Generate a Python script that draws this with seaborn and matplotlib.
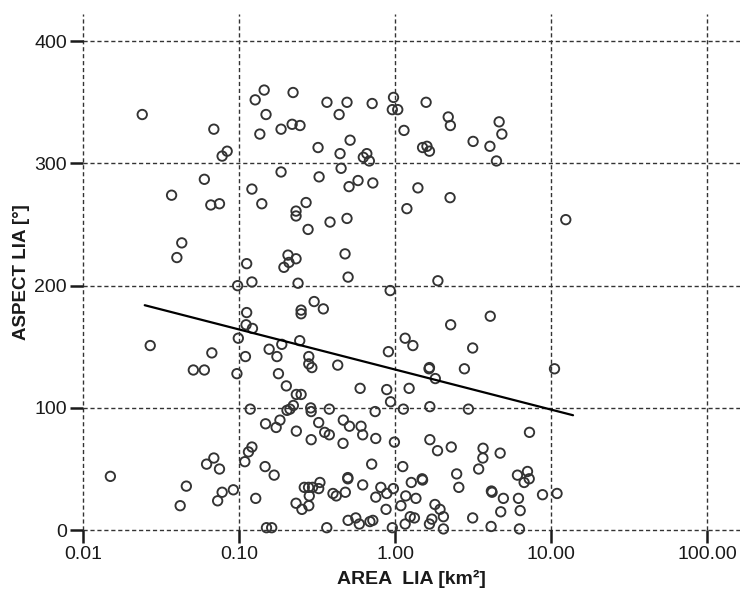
import numpy as np
import pandas as pd
import matplotlib
matplotlib.use("Agg")
import matplotlib.pyplot as plt
import seaborn as sns

# Glacier area during the Little Ice Age (km²) and the aspect (degrees)
area = [
    0.024, 0.069, 0.078, 0.084, 0.060, 0.037, 0.066, 0.075, 0.043, 0.040,
    0.098, 0.121, 0.112, 0.127, 0.145, 0.149, 0.136, 0.186, 0.222, 0.219,
    0.246, 0.186, 0.121, 0.140, 0.232, 0.232, 0.269, 0.277, 0.321, 0.326,
    0.366, 0.438, 0.492, 0.515, 0.444, 0.451, 0.579, 0.507, 0.383, 0.492,
    0.478, 0.50, 0.194, 0.206, 0.209, 0.232, 0.239, 0.713, 0.977, 0.96,
    1.04, 1.58, 1.14, 2.19, 2.26, 1.50, 1.60, 1.66, 3.16, 4.05,
    4.64, 4.83, 4.46, 1.40, 2.25, 1.19, 0.72, 0.659, 0.626, 0.684,
    12.4, 1.88, 0.93,
    0.112, 0.25, 0.25, 0.303, 0.347, 0.111, 0.122, 0.099, 0.027, 0.067,
    0.051, 0.060, 0.097, 0.110, 0.156, 0.188, 0.175, 0.179, 0.245, 0.28,
    0.28, 0.293, 0.429, 0.201, 0.233, 0.25, 0.597, 0.906, 0.884, 4.07,
    2.27, 1.16, 1.30, 3.14, 1.65, 1.66, 1.81, 2.78, 10.5, 1.23,
    0.935, 1.13, 1.67, 2.95, 0.118, 0.203, 0.212, 0.223, 0.288, 0.29,
    0.379, 0.745,
    0.148, 0.173, 0.183, 0.233, 0.324, 0.29, 0.354, 0.379, 0.466, 0.51,
    0.464, 0.605, 0.62, 0.752, 0.99, 0.109, 0.115, 0.121, 0.062, 0.069,
    0.075, 0.015, 0.046, 0.042, 0.073, 0.078, 0.092, 0.128, 0.147, 0.168,
    0.232, 0.253, 0.28, 0.262, 0.279, 0.296, 0.324, 0.33, 0.282, 0.150,
    0.162, 0.365, 0.40, 0.42, 0.48, 0.498, 0.498, 0.62, 0.708, 0.50,
    0.56, 0.59, 0.69, 0.72, 0.81, 0.975, 0.752, 0.884, 0.875, 0.96,
    7.26, 1.67, 1.87, 2.29, 3.66, 3.65, 4.71, 3.43, 2.48, 2.56,
    1.12, 1.27, 1.49, 1.50, 1.17, 1.36, 1.09, 1.25, 1.33, 1.16,
    1.80, 1.94, 2.04, 1.72, 1.66, 2.04, 4.14, 4.18, 4.94, 6.17,
    6.08, 7.05, 7.23, 6.71, 8.8, 10.9, 4.75, 6.33, 3.14, 4.12,
    6.26,
]
aspect = [
    340, 328, 306, 310, 287, 274, 266, 267, 235, 223,
    200, 203, 218, 352, 360, 340, 324, 328, 358, 332,
    331, 293, 279, 267, 261, 257, 268, 246, 313, 289,
    350, 340, 350, 319, 308, 296, 286, 281, 252, 255,
    226, 207, 215, 225, 219, 222, 202, 349, 354, 344,
    344, 350, 327, 338, 331, 313, 314, 310, 318, 314,
    334, 324, 302, 280, 272, 263, 284, 308, 305, 302,
    254, 204, 196,
    178, 180, 177, 187, 181, 168, 165, 157, 151, 145,
    131, 131, 128, 142, 148, 152, 142, 128, 155, 142,
    136, 133, 135, 118, 111, 111, 116, 146, 115, 175,
    168, 157, 151, 149, 132, 133, 124, 132, 132, 116,
    105, 99, 101, 99, 99, 98, 99, 102, 100, 97,
    99, 97,
    87, 84, 90, 81, 88, 74, 80, 78, 90, 85,
    71, 85, 78, 75, 72, 56, 64, 68, 54, 59,
    50, 44, 36, 20, 24, 31, 33, 26, 52, 45,
    22, 17, 20, 35, 35, 35, 34, 39, 28, 2,
    2, 2, 30, 28, 31, 43, 42, 37, 54, 8,
    10, 5, 7, 8, 35, 34, 27, 30, 17, 2,
    80, 74, 65, 68, 67, 59, 63, 50, 46, 35,
    52, 39, 42, 41, 28, 26, 20, 11, 10, 5,
    21, 17, 11, 9, 5, 1, 32, 31, 26, 26,
    45, 48, 42, 39, 29, 30, 15, 16, 10, 3,
    1,
]

# Linear fit of aspect against log area
fit_area = [0.0249, 13.8]
fit_aspect = [184, 94]

x_ticks = [0.01, 0.1, 1, 10, 100]
x_tick_labels = ["0.01", "0.10", "1.00", "10.00", "100.00"]
y_ticks = [0, 100, 200, 300, 400]

df = pd.DataFrame({"area": area, "aspect": aspect})

sns.set_style("white")
plt.rcParams["font.family"] = ["Liberation Sans", "DejaVu Sans"]

fig = plt.figure(figsize=(7.4, 5.95), dpi=100)
ax = fig.add_axes([0.112, 0.109, 0.888, 0.867])

ax.set_xscale("log")
ax.set_xlim(0.01, 162)
ax.set_ylim(0, 422)

# Dashed reference grid at every labelled tick, including the axis edges
grid_kw = dict(color="#333333", linestyle=(0, (3, 2)), linewidth=1.0,
               zorder=0, clip_on=False)
for xv in x_ticks:
    ax.axvline(xv, **grid_kw)
for yv in y_ticks:
    ax.axhline(yv, **grid_kw)

sns.scatterplot(data=df, x="area", y="aspect", ax=ax, marker="o", s=46,
                facecolors="none", edgecolor="#333333", linewidth=1.35,
                clip_on=False, zorder=3, legend=False)
sns.lineplot(x=fit_area, y=fit_aspect, ax=ax, color="black", linewidth=1.6,
             zorder=4)

for side in ["top", "right", "bottom", "left"]:
    ax.spines[side].set_visible(False)

ax.set_xticks(x_ticks)
ax.set_xticklabels(x_tick_labels)
ax.xaxis.set_minor_locator(matplotlib.ticker.NullLocator())
ax.set_yticks(y_ticks)
ax.tick_params(axis="both", which="major", direction="out", length=9.5,
               width=1.8, color="#1a1a1a", labelsize=14, labelcolor="#1a1a1a",
               pad=2, bottom=True, left=True)

ax.set_xlabel("AREA  LIA [km²]", fontsize=14, fontweight="bold",
              color="#1a1a1a", labelpad=5)
ax.set_ylabel("ASPECT LIA [°]", fontsize=13.5, fontweight="bold",
              color="#1a1a1a", labelpad=3)

fig.savefig("out.png", dpi=100)
